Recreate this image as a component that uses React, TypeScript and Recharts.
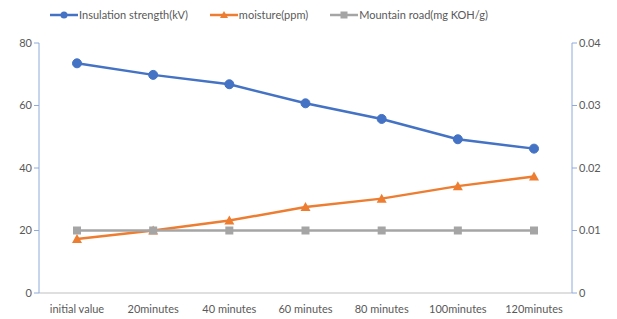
import React from "react";
import { LineChart, Line, XAxis, YAxis } from "recharts";

const categories = ["initial value", "20minutes", "40 minutes", "60 minutes", "80 minutes", "100minutes", "120minutes"];
const insulation = [73.5, 69.8, 66.8, 60.7, 55.7, 49.2, 46.2];
const moisture = [17.3, 20, 23.2, 27.5, 30.2, 34.2, 37.3];
const mountainRoad = [0.01, 0.01, 0.01, 0.01, 0.01, 0.01, 0.01];
const leftTicks = [0, 20, 40, 60, 80];
const rightTicks = [0, 0.01, 0.02, 0.03, 0.04];

const BLUE = "#4472C4";
const ORANGE = "#ED7D31";
const GREY = "#A5A5A5";
const FONT = "Lato, 'Open Sans', sans-serif";

const data = categories.map((c, i) => ({
  name: c,
  insulation: insulation[i],
  moisture: moisture[i],
  road: mountainRoad[i],
}));

const CircleDot = (p: any) => (
  <circle key={`c${p.index}`} cx={p.cx} cy={p.cy} r={4.5} fill={BLUE} stroke={BLUE} />
);
const TriDot = (p: any) => {
  const s = 5;
  return (
    <path
      key={`t${p.index}`}
      d={`M${p.cx},${p.cy - s} L${p.cx + s},${p.cy + s * 0.8} L${p.cx - s},${p.cy + s * 0.8} Z`}
      fill={ORANGE}
    />
  );
};
const SqDot = (p: any) => (
  <rect key={`s${p.index}`} x={p.cx - 4} y={p.cy - 4} width={8} height={8} fill={GREY} />
);

const legendItems = [
  { label: "Insulation strength(kV)", color: BLUE, marker: "circle" },
  { label: "moisture(ppm)", color: ORANGE, marker: "tri" },
  { label: "Mountain road(mg KOH/g)", color: GREY, marker: "sq" },
];

const LegendBar = () => (
  <div
    style={{
      position: "absolute",
      top: 8,
      left: 50,
      display: "flex",
      gap: 22,
      fontFamily: FONT,
      fontSize: 11,
      color: "#595959",
      whiteSpace: "nowrap",
    }}
  >
    {legendItems.map((it) => (
      <div key={it.label} style={{ display: "flex", alignItems: "center" }}>
        <svg width={28} height={12} style={{ marginRight: 1 }}>
          <line x1={0} y1={6} x2={28} y2={6} stroke={it.color} strokeWidth={2.5} />
          {it.marker === "circle" && <circle cx={14} cy={6} r={3.5} fill={it.color} />}
          {it.marker === "tri" && <path d="M14,2 L18,9 L10,9 Z" fill={it.color} />}
          {it.marker === "sq" && <rect x={10.5} y={2.5} width={7} height={7} fill={it.color} />}
        </svg>
        <span>{it.label}</span>
      </div>
    ))}
  </div>
);

export default function App() {
  return (
    <div style={{ position: "absolute", top: 0, left: 0, width: 617, height: 319, background: "#fff" }}>
      <LegendBar />
      <LineChart
        width={617}
        height={319}
        data={data}
        margin={{ top: 43, right: 5, bottom: 6, left: 9 }}
      >
        <XAxis
          dataKey="name"
          tickLine={false}
          axisLine={{ stroke: "#BFBFBF" }}
          tick={{ fill: "#595959", fontSize: 11, fontFamily: FONT }}
          interval={0}
          height={20}
          tickMargin={6}
          padding={{ left: 38, right: 38 }}
        />
        <YAxis
          yAxisId="left"
          domain={[0, 80]}
          ticks={leftTicks}
          width={30}
          tickSize={5}
          axisLine={{ stroke: "#8FAADC" }}
          tickLine={{ stroke: "#8FAADC" }}
          tick={{ fill: "#595959", fontSize: 11, fontFamily: FONT }}
        />
        <YAxis
          yAxisId="right"
          orientation="right"
          domain={[0, 0.04]}
          ticks={rightTicks}
          width={40}
          tickSize={5}
          axisLine={{ stroke: "#8FAADC" }}
          tickLine={{ stroke: "#8FAADC" }}
          tick={{ fill: "#595959", fontSize: 11, fontFamily: FONT }}
        />
        <Line
          yAxisId="left"
          dataKey="insulation"
          stroke={BLUE}
          strokeWidth={2.5}
          dot={CircleDot}
          isAnimationActive={false}
        />
        <Line
          yAxisId="left"
          dataKey="moisture"
          stroke={ORANGE}
          strokeWidth={2.5}
          dot={TriDot}
          isAnimationActive={false}
        />
        <Line
          yAxisId="right"
          dataKey="road"
          stroke={GREY}
          strokeWidth={2.5}
          dot={SqDot}
          isAnimationActive={false}
        />
      </LineChart>
    </div>
  );
}
